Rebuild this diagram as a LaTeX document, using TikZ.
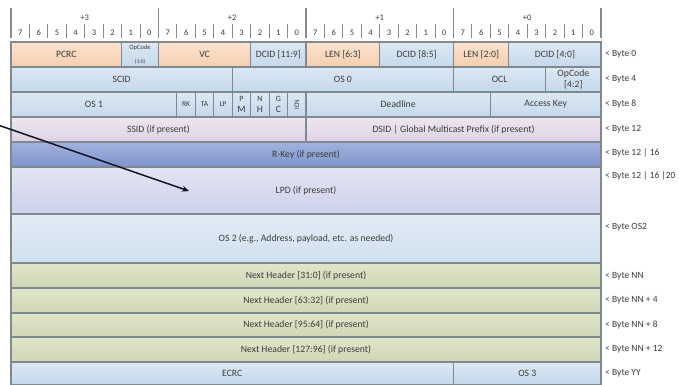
\documentclass[tikz,border=0pt]{standalone}
\usepackage{fontspec}
\setmainfont{Carlito}
\usepackage{graphicx}
\usetikzlibrary{arrows.meta}
\definecolor{peachT}{HTML}{FBE3D0}
\definecolor{peachB}{HTML}{F6CDAE}
\definecolor{bluT}{HTML}{DCE8F4}
\definecolor{bluB}{HTML}{C4D8EB}
\definecolor{pinkT}{HTML}{EEE6F0}
\definecolor{pinkB}{HTML}{DDD2E4}
\definecolor{rkeyT}{HTML}{A2B2DD}
\definecolor{rkeyB}{HTML}{7E94CA}
\definecolor{lpdT}{HTML}{E3E5F3}
\definecolor{lpdB}{HTML}{CDD1EA}
\definecolor{osT}{HTML}{E2ECF6}
\definecolor{osB}{HTML}{D0E0EE}
\definecolor{nhT}{HTML}{E0E6CC}
\definecolor{nhB}{HTML}{CFD7B4}
\definecolor{cellline}{HTML}{808890}
\definecolor{txt}{HTML}{3C3C3C}
\definecolor{tickc}{HTML}{8A8A8A}
\definecolor{ptrc}{HTML}{141428}
\tikzset{
  fld/.style={draw=cellline, line width=1.1pt, inner sep=0pt, outer sep=0pt,
    align=center, text=txt, font=\fontsize{9.7}{11}\selectfont},
  peach/.style={top color=peachT, bottom color=peachB},
  blu/.style={top color=bluT, bottom color=bluB},
  pinkf/.style={top color=pinkT, bottom color=pinkB},
  rkeyf/.style={top color=rkeyT, bottom color=rkeyB},
  lpdf/.style={top color=lpdT, bottom color=lpdB},
  osf/.style={top color=osT, bottom color=osB},
  nhf/.style={top color=nhT, bottom color=nhB},
  dig/.style={inner sep=0pt, text=txt, font=\fontsize{8.5}{10}\selectfont},
  tickl/.style={draw=tickc, line width=0.9pt},
  lbl/.style={anchor=west, inner sep=0pt, text=txt, font=\fontsize{9.5}{11}\selectfont},
  ptr/.style={draw=ptrc, line width=1.5pt, -{Stealth[length=7pt,width=6pt]}}
}
\newcommand\fld[7]{%
  \node[fld,#6,minimum width={(#3-#2)*18.4375pt},minimum height={(#5-#4)*1pt}]
    (#1) at ({11+(#2+#3)*9.21875},{(#4+#5)/2}) {#7};}
\begin{document}
\begin{tikzpicture}[x=1pt,y=-1pt]
\useasboundingbox (0,0) rectangle (679,384);
\fill[white] (0,0) rectangle (679,384);
% header ruler
\foreach \k in {0,...,32}
  \draw[tickl] ({11+\k*18.4375},24) -- ({11+\k*18.4375},38);
\foreach \k in {0,8,...,32}
  \draw[tickl, line width=1.2pt] ({11+\k*18.4375},8) -- ({11+\k*18.4375},38);
\foreach \k in {0,...,31}{
  \pgfmathtruncatemacro\dg{7-mod(\k,8)}
  \node[dig] (d\k) at ({11+(\k+0.5)*18.4375},33) {\dg};
}
\foreach \b/\lab in {0/+3,1/+2,2/+1,3/+0}
  \node[dig] (h\b) at ({11+(\b+0.5)*147.5},18) {\lab};
% row byte 0
\fld{pcrc}{0}{6}{42}{67}{peach}{PCRC}
\fld{opcA}{6}{8}{42}{67}{blu}{\fontsize{6.5}{8}\selectfont OpCode\\[2.5pt]\fontsize{5.5}{7}\selectfont (1:0)}
\fld{vc}{8}{13}{42}{67}{peach}{VC}
\fld{dcidA}{13}{16}{42}{67}{blu}{DCID [11:9]}
\fld{lenA}{16}{20}{42}{67}{peach}{LEN [6:3]}
\fld{dcidB}{20}{24}{42}{67}{blu}{DCID [8:5]}
\fld{lenB}{24}{27}{42}{67}{peach}{LEN [2:0]}
\fld{dcidC}{27}{32}{42}{67}{blu}{DCID [4:0]}
% row byte 4
\fld{scid}{0}{12}{67}{92}{blu}{SCID}
\fld{oszero}{12}{24}{67}{92}{blu}{OS 0}
\fld{ocl}{24}{29}{67}{92}{blu}{OCL}
\fld{opcB}{29}{32}{67}{92}{blu}{\fontsize{9.7}{13}\selectfont OpCode\\{[4:2]}}
% row byte 8
\fld{osone}{0}{9}{92}{117}{blu}{OS 1}
\fld{rk}{9}{10}{92}{117}{blu}{\fontsize{7.5}{9}\selectfont RK}
\fld{ta}{10}{11}{92}{117}{blu}{\fontsize{7.5}{9}\selectfont TA}
\fld{lp}{11}{12}{92}{117}{blu}{\fontsize{7.5}{9}\selectfont LP}
\fld{pm}{12}{13}{92}{117}{blu}{\fontsize{8}{12.5}\selectfont P\\M}
\fld{nh}{13}{14}{92}{117}{blu}{\fontsize{8}{12.5}\selectfont N\\H}
\fld{gc}{14}{15}{92}{117}{blu}{\fontsize{8}{12.5}\selectfont G\\C}
\fld{icn}{15}{16}{92}{117}{blu}{\rotatebox{90}{\fontsize{7}{8}\selectfont ICN}}
\fld{dl}{16}{26}{92}{117}{blu}{Deadline}
\fld{ak}{26}{32}{92}{117}{blu}{Access Key}
% row byte 12
\fld{ssid}{0}{16}{117}{142}{pinkf}{SSID (if present)}
\fld{dsid}{16}{32}{117}{142}{pinkf}{DSID | Global Multicast Prefix (if present)}
% full rows
\fld{rkey}{0}{32}{142}{167}{rkeyf}{R-Key (if present)}
\fld{lpd}{0}{32}{167}{214}{lpdf}{LPD (if present)}
\fld{ostwo}{0}{32}{214}{263}{osf}{OS 2 (e.g., Address, payload, etc. as needed)}
\fld{nhA}{0}{32}{263}{288}{nhf}{Next Header [31:0] (if present)}
\fld{nhB}{0}{32}{288}{313}{nhf}{Next Header [63:32] (if present)}
\fld{nhC}{0}{32}{313}{337}{nhf}{Next Header [95:64] (if present)}
\fld{nhD}{0}{32}{337}{362}{nhf}{Next Header [127:96] (if present)}
\fld{ecrc}{0}{24}{362}{385}{blu}{ECRC}
\fld{osthree}{24}{32}{362}{385}{blu}{OS 3}
% right labels
\node[lbl] (l0) at (605,54) {< Byte 0};
\node[lbl] (l4) at (605,79) {< Byte 4};
\node[lbl] (l8) at (605,104) {< Byte 8};
\node[lbl] (l12) at (605,129) {< Byte 12};
\node[lbl] (l16) at (605,153) {< Byte 12 | 16};
\node[lbl] (l20) at (605,176) {< Byte 12 | 16 |20};
\node[lbl] (los2) at (605,227) {< Byte OS2};
\node[lbl] (lnn) at (605,276) {< Byte NN};
\node[lbl] (lnn4) at (605,300) {< Byte NN + 4};
\node[lbl] (lnn8) at (605,325) {< Byte NN + 8};
\node[lbl] (lnn12) at (605,349) {< Byte NN + 12};
\node[lbl] (lyy) at (605,373) {< Byte YY};
% pointer arrow
\coordinate (aS) at (-2,125);
\coordinate (aE) at (189,191);
\draw[ptr] (aS) -- (aE);
\end{tikzpicture}
\end{document}
